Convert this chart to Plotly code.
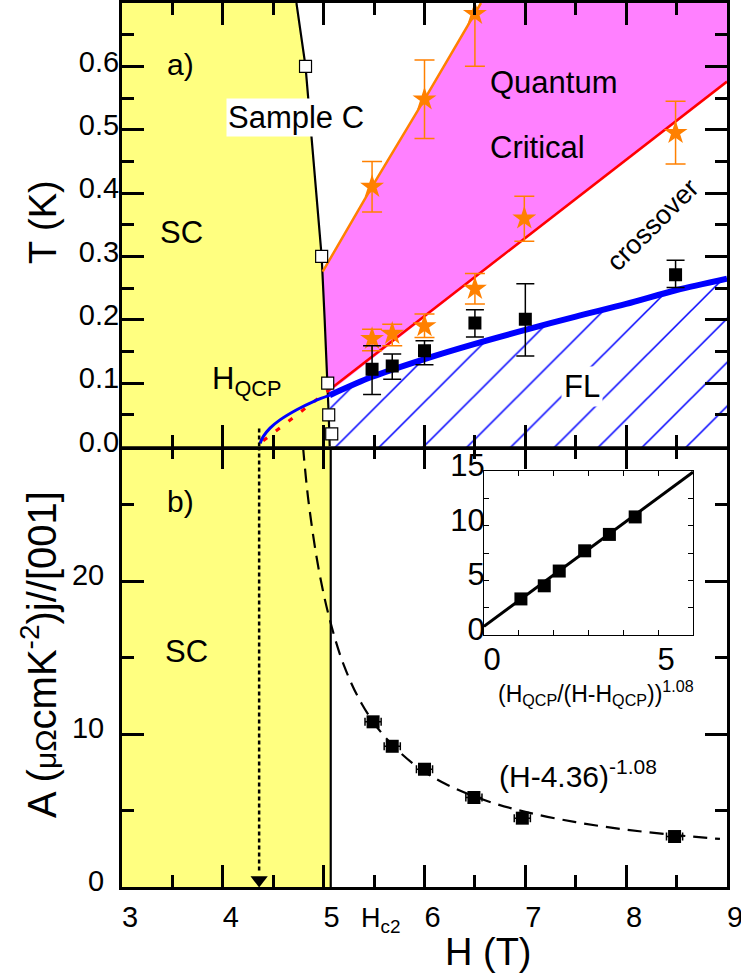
import plotly.graph_objects as go

FONT = "Liberation Sans, Arial, sans-serif"
ORANGE = "#FF8000"
MAGENTA = "#FF80FF"
YELLOW = "#FFFF80"
BLUE = "#0000FF"
RED = "#FF0000"

# ---------------- panel a data ----------------
T_TOP = 0.70
H_MIN, H_MAX = 3.0, 9.0
# Hc2 boundary of sample C
hc2_H = [4.73, 4.82, 4.90, 4.98, 5.01, 5.04, 5.05, 5.06]
hc2_T = [0.70, 0.60, 0.45, 0.30, 0.20, 0.10, 0.05, 0.0]
# open squares (sample C)
sqC_H = [4.82, 4.98, 5.04, 5.05, 5.08]
sqC_T = [0.60, 0.30, 0.10, 0.05, 0.02]
# orange line (upper crossover)
orange_H = [4.99, 5.48, 6.0, 6.5, 6.56]
orange_T = [0.276, 0.41, 0.548, 0.683, 0.70]
# upper stars
starU_H = [5.48, 6.0, 6.5]
starU_T = [0.41, 0.548, 0.683]
starU_err = [0.04, 0.062, 0.083]
# lower stars
starL_H = [5.48, 5.68, 6.0, 6.5, 6.99, 8.49]
starL_T = [0.170, 0.178, 0.190, 0.249, 0.360, 0.495]
starL_up = [0.015, 0.015, 0.019, 0.024, 0.035, 0.050]
starL_dn = [0.019, 0.019, 0.018, 0.024, 0.036, 0.049]
# black squares (T_FL)
sqB_H = [5.48, 5.68, 6.0, 6.5, 7.0, 8.49]
sqB_T = [0.122, 0.127, 0.151, 0.195, 0.201, 0.271]
sqB_up = [0.037, 0.019, 0.016, 0.021, 0.056, 0.023]
sqB_dn = [0.040, 0.021, 0.022, 0.022, 0.058, 0.020]
# red line and its dotted extension
red_H = [5.06, 9.0]
red_T = [0.09, 0.576]
redDot_H = [4.40, 5.06]
redDot_T = [0.009, 0.09]
# blue line (thin part and thick part)
blueThin_H = [4.369, 4.402, 4.468, 4.567, 4.733, 4.898, 5.063]
blueThin_T = [0.005, 0.016, 0.029, 0.042, 0.058, 0.071, 0.081]
blueThick_H = [5.06, 5.48, 6.0, 6.5, 7.0, 7.5, 8.0, 8.5, 9.0]
blueThick_T = [0.081, 0.110, 0.138, 0.162, 0.184, 0.205, 0.225, 0.247, 0.265]
# magenta (quantum critical) region outline
mag_H = [5.05, 5.04, 5.01, 4.99, 5.48, 6.0, 6.5, 6.56, 9.0, 9.0]
mag_T = [0.085, 0.10, 0.20, 0.276, 0.41, 0.548, 0.683, 0.70, 0.70, 0.576]
H_QCP = 4.36
qcpSeg_T = [0.0, 0.03]

# ---------------- panel b data ----------------
A_TOP = 28.8
HC2_B = 5.07
A_H = [5.49, 5.68, 6.0, 6.49, 6.97, 8.48]
A_val = [10.8, 9.2, 7.7, 5.85, 4.5, 3.3]
A_herr = [0.08, 0.08, 0.08, 0.08, 0.08, 0.08]
fit_H = [4.795, 4.85, 4.95, 5.06, 5.2, 5.38, 5.6, 5.9, 6.2, 6.6, 7.0, 7.5, 8.0, 8.5, 8.93]
fit_A = [28.8, 25.2, 20.8, 17.5, 14.5, 11.95, 9.87, 8.0, 6.77, 5.67, 4.91, 4.24, 3.75, 3.39, 3.14]

# inset
ins_x = [1.06, 1.73, 2.16, 2.89, 3.60, 4.34]
ins_A = [3.3, 4.5, 5.85, 7.7, 9.2, 10.8]
insLine_x = [0.0, 6.0]
insLine_A = [0.8, 14.9]

fig = go.Figure()
pa = dict(xaxis="x2", yaxis="y")
pb = dict(xaxis="x", yaxis="y2")
pi = dict(xaxis="x3", yaxis="y3")

# ---- panel a fills ----
fig.add_trace(go.Scatter(x=[H_MIN, H_MIN] + hc2_H, y=[0, T_TOP] + hc2_T, fill="toself",
                         fillcolor=YELLOW, line=dict(width=0), mode="lines", hoverinfo="skip", **pa))
fig.add_trace(go.Scatter(x=mag_H, y=mag_T, fill="toself", fillcolor=MAGENTA,
                         line=dict(width=0), mode="lines", hoverinfo="skip", **pa))
fig.add_trace(go.Scatter(x=blueThick_H + [H_MAX, blueThick_H[0]], y=blueThick_T + [0, 0],
                         fill="toself", fillcolor="white",
                         fillpattern=dict(shape="/", fgcolor=BLUE, bgcolor="white", fgopacity=1,
                                          size=31, solidity=0.05),
                         line=dict(width=0), mode="lines", hoverinfo="skip", **pa))
# ---- panel a lines ----
fig.add_trace(go.Scatter(x=hc2_H, y=hc2_T, mode="lines", line=dict(color="black", width=2.2), **pa))
fig.add_trace(go.Scatter(x=orange_H, y=orange_T, mode="lines", line=dict(color=ORANGE, width=2.5), **pa))
fig.add_trace(go.Scatter(x=red_H, y=red_T, mode="lines", line=dict(color=RED, width=2.5), **pa))
fig.add_trace(go.Scatter(x=redDot_H, y=redDot_T, mode="lines",
                         line=dict(color=RED, width=3, dash="5px,11px"), **pa))
fig.add_trace(go.Scatter(x=blueThin_H, y=blueThin_T, mode="lines",
                         line=dict(color=BLUE, width=3, shape="spline"), **pa))
fig.add_trace(go.Scatter(x=blueThick_H, y=blueThick_T, mode="lines",
                         line=dict(color=BLUE, width=6, shape="spline", smoothing=0.8), **pa))
fig.add_trace(go.Scatter(x=[H_QCP, H_QCP], y=qcpSeg_T, mode="lines",
                         line=dict(color="black", width=2.5, dash="4px,3px"), **pa))
# ---- panel a markers ----
fig.add_trace(go.Scatter(x=starU_H, y=starU_T, mode="markers",
                         marker=dict(symbol="star", size=18, color=ORANGE),
                         error_y=dict(type="data", array=starU_err, color=ORANGE, thickness=1.5, width=10), **pa))
fig.add_trace(go.Scatter(x=starL_H, y=starL_T, mode="markers",
                         marker=dict(symbol="star", size=18, color=ORANGE),
                         error_y=dict(type="data", array=starL_up, arrayminus=starL_dn, color=ORANGE,
                                      thickness=1.5, width=10), **pa))
fig.add_trace(go.Scatter(x=sqB_H, y=sqB_T, mode="markers",
                         marker=dict(symbol="square", size=13, color="black"),
                         error_y=dict(type="data", array=sqB_up, arrayminus=sqB_dn, color="black",
                                      thickness=1.5, width=9), **pa))
fig.add_trace(go.Scatter(x=sqC_H, y=sqC_T, mode="markers",
                         marker=dict(symbol="square", size=12, color="white", line=dict(color="black", width=1.2)), **pa))

# ---- panel b ----
fig.add_trace(go.Scatter(x=[H_MIN, H_MIN, HC2_B, HC2_B], y=[0, A_TOP, A_TOP, 0], fill="toself",
                         fillcolor=YELLOW, line=dict(width=0), mode="lines", hoverinfo="skip", **pb))
fig.add_trace(go.Scatter(x=[HC2_B, HC2_B], y=[0, A_TOP], mode="lines", line=dict(color="black", width=2.2), **pb))
fig.add_trace(go.Scatter(x=fit_H, y=fit_A, mode="lines",
                         line=dict(color="black", width=2.2, dash="14px,8px", shape="spline"), **pb))
fig.add_trace(go.Scatter(x=[H_QCP, H_QCP], y=[A_TOP, 1.0], mode="lines",
                         line=dict(color="black", width=2.5, dash="4px,3px"), **pb))
fig.add_trace(go.Scatter(x=[H_QCP], y=[0.46], mode="markers",
                         marker=dict(symbol="triangle-down", size=15, color="black"), **pb))
fig.add_trace(go.Scatter(x=A_H, y=A_val, mode="markers",
                         marker=dict(symbol="square", size=13, color="black"),
                         error_x=dict(type="data", array=A_herr, color="black", thickness=1.5, width=4), **pb))

# ---- inset ----
fig.add_trace(go.Scatter(x=insLine_x, y=insLine_A, mode="lines", line=dict(color="black", width=3), **pi))
fig.add_trace(go.Scatter(x=ins_x, y=ins_A, mode="markers",
                         marker=dict(symbol="square", size=13, color="black"), **pi))

W, H = 741, 979
ML, MR, MT, MB = 122, 14, 3, 92
PW = W - ML - MR
PH = H - MT - MB
D = (887 - 446.5) / PH

tickfont = dict(family=FONT, size=29, color="black")
common = dict(showline=True, linewidth=3, linecolor="black", mirror="allticks", ticks="inside",
              ticklen=22, tickwidth=3, tickcolor="black", showgrid=False, zeroline=False,
              tickfont=tickfont)

fig.update_layout(
    width=W, height=H, margin=dict(l=ML, r=MR, t=MT, b=MB, autoexpand=False),
    paper_bgcolor="white", plot_bgcolor="white", showlegend=False,
    font=dict(family=FONT, color="black"),
    xaxis=dict(domain=[0, 1], anchor="y2", range=[H_MIN, H_MAX], tickvals=[3, 4, 5, 6, 7, 8, 9],
               minor=dict(ticks="inside", dtick=0.5, tick0=3, ticklen=12, tickwidth=3, tickcolor="black"),
               ticklabelshift=8, ticklabelstandoff=2, ticklabeloverflow="allow", **common),
    xaxis2=dict(domain=[0, 1], anchor="y", matches="x", range=[H_MIN, H_MAX], tickvals=[3, 4, 5, 6, 7, 8, 9],
                showticklabels=False,
                minor=dict(ticks="inside", dtick=0.5, tick0=3, ticklen=12, tickwidth=3, tickcolor="black"),
                **common),
    yaxis=dict(domain=[D, 1], anchor="x2", range=[0, T_TOP],
               tickvals=[0, 0.1, 0.2, 0.3, 0.4, 0.5, 0.6],
               ticktext=["0.0", "0.1", "0.2", "0.3", "0.4", "0.5", "0.6"],
               minor=dict(ticks="inside", dtick=0.05, tick0=0, ticklen=12, tickwidth=3, tickcolor="black"),
               ticklabelshift=-5, ticklabelstandoff=-6, ticklabeloverflow="allow", **common),
    yaxis2=dict(domain=[0, D], anchor="x", range=[0, A_TOP], tickvals=[0, 10, 20],
                minor=dict(ticks="inside", dtick=5, tick0=0, ticklen=12, tickwidth=3, tickcolor="black"),
                ticklabelshift=-6, ticklabelstandoff=9, ticklabeloverflow="allow", **common),
    xaxis3=dict(domain=[(484 - ML) / PW, (693 - ML) / PW], anchor="y3", range=[0, 6], tickvals=[0, 5],
                showline=True, linewidth=1, linecolor="black", mirror="allticks", ticks="inside",
                ticklen=5, tickwidth=1, tickcolor="black", showgrid=False, zeroline=False,
                minor=dict(ticks="inside", dtick=1, tick0=0, ticklen=5, tickwidth=1, tickcolor="black"),
                tickfont=dict(family=FONT, size=31, color="black"), ticklabelshift=8, ticklabelstandoff=-3,
                ticklabeloverflow="allow"),
    yaxis3=dict(domain=[(887 - 635) / PH, (887 - 471) / PH], anchor="x3", range=[0, 15],
                tickvals=[0, 5, 10, 15],
                showline=True, linewidth=1, linecolor="black", mirror="allticks", ticks="inside",
                ticklen=5, tickwidth=1, tickcolor="black", showgrid=False, zeroline=False,
                minor=dict(ticks="inside", dtick=2.5, tick0=0, ticklen=5, tickwidth=1, tickcolor="black"),
                tickfont=dict(family=FONT, size=31, color="black"), ticklabelshift=-6, ticklabelstandoff=-8,
                ticklabeloverflow="allow"),
)

def ann(text, x, y, xref, yref, size, xanchor="center", yanchor="middle", **kw):
    fig.add_annotation(text=text, x=x, y=y, xref=xref, yref=yref, showarrow=False,
                       xanchor=xanchor, yanchor=yanchor,
                       font=dict(family=FONT, size=size, color="black"), **kw)

def px(xp):
    return (xp - ML) / PW

def py(yp):
    return (887 - yp) / PH

# panel a texts
ann("a)", 3.58, 0.603, "x2", "y", 30)
ann("Sample C", 4.726, 0.52, "x2", "y", 31, bgcolor="white", borderpad=1)
ann("SC", 3.59, 0.337, "x2", "y", 31)
ann("H<sub>QCP</sub>", 3.873, 0.103, "x2", "y", 31, xanchor="left")
ann("Quantum", 6.63, 0.574, "x2", "y", 31, xanchor="left")
ann("Critical", 6.63, 0.472, "x2", "y", 31, xanchor="left")
ann("crossover", 8.26, 0.35, "x2", "y", 27, textangle=-45)
ann("FL", 7.56, 0.094, "x2", "y", 31, bgcolor="white", borderpad=2)
# panel b texts
ann("b)", 3.58, 25.2, "x", "y2", 30)
ann("SC", 3.64, 15.4, "x", "y2", 31)
ann("(H-4.36)<sup>-1.08</sup>", 6.72, 7.4, "x", "y2", 30, xanchor="left")
# inset title
ann("(H<sub>QCP</sub>/(H-H<sub>QCP</sub>))<sup>1.08</sup>", px(596), py(693), "paper", "paper", 23)
# axis titles
ann("H (T)", px(488), py(952), "paper", "paper", 38)
ann("H<sub>c2</sub>", px(380), py(920), "paper", "paper", 27)
ann("T (K)", px(43), py(222), "paper", "paper", 38, textangle=-90)
ann("A (<span style='font-size:30px'>μΩ</span>cmK<sup>-2</sup>)j//[001]", px(39), py(655),
    "paper", "paper", 40, textangle=-90)

POST = ("document.body.style.margin='0px';document.body.style.padding='0px';"
        "var g=document.getElementsByClassName('plotly-graph-div')[0];"
        "g.style.position='absolute';g.style.left='0px';g.style.top='0px';")
fig.write_html("out.html", config={"displayModeBar": False}, post_script=POST)
